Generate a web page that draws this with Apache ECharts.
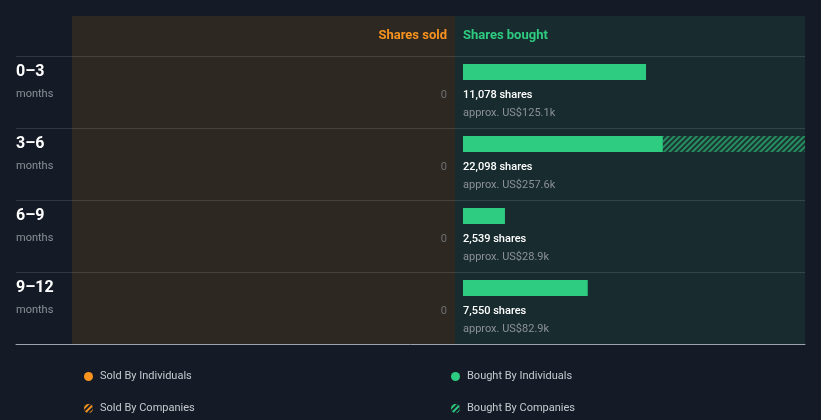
<!DOCTYPE html>
<html>
<head>
<meta charset="utf-8">
<script src="https://cdn.jsdelivr.net/npm/echarts@6/dist/echarts.min.js"></script>
<style>
html,body{margin:0;padding:0;background:#151b26;}
#c{width:821px;height:420px;}
</style>
</head>
<body>
<div id="c"></div>
<script>
const categories = ['0–3', '3–6', '6–9', '9–12'];
const rowUnit = 'months';
const soldIndividuals = [0, 0, 0, 0];
const soldCompanies = [0, 0, 0, 0];
const boughtIndividuals = [11078, 12100, 2539, 7550];
const boughtCompanies = [0, 9998, 0, 0];
const boughtTotalShares = [11078, 22098, 2539, 7550];
const boughtApproxValue = ['US$125.1k', 'US$257.6k', 'US$28.9k', 'US$82.9k'];
const axisMaxShares = 20700;

const ORANGE = '#f7931e';
const GREEN = '#2ecc80';
const FONT = 'Roboto';

const chart = echarts.init(document.getElementById('c'), null, {renderer: 'canvas'});

const hatchGreen = {
  color: 'rgba(46,204,128,0.6)',
  dashArrayX: [1, 0],
  dashArrayY: [1.2, 1.3],
  rotation: -Math.PI / 4
};
const hatchDark = {
  color: '#151b26',
  dashArrayX: [1, 0],
  dashArrayY: [1.2, 1.6],
  rotation: -Math.PI / 4
};

function fmt(n) { return n.toLocaleString('en-US'); }

const option = {
  backgroundColor: '#151b26',
  animation: false,
  textStyle: {fontFamily: FONT},
  graphic: [
    {type: 'rect', z: -10, shape: {x: 72, y: 16, width: 383, height: 328}, style: {fill: '#2d2822'}},
    {type: 'rect', z: -10, shape: {x: 455, y: 16, width: 350, height: 328}, style: {fill: '#182c2f'}}
  ],
  title: [
    {text: 'Shares sold', right: 374, top: 29, padding: 0,
     textStyle: {color: ORANGE, fontSize: 13, fontWeight: 'bold', fontFamily: FONT}},
    {text: 'Shares bought', left: 463, top: 29, padding: 0,
     textStyle: {color: GREEN, fontSize: 13, fontWeight: 'bold', fontFamily: FONT}}
  ],
  legend: [
    {left: 84, top: 371, orient: 'vertical', padding: 0, itemGap: 21, itemWidth: 9, itemHeight: 9,
     icon: 'circle', textStyle: {color: '#c5c9cf', fontSize: 11, fontFamily: FONT, padding: [0, 0, 0, 2]},
     data: [
       {name: 'Sold By Individuals', itemStyle: {color: ORANGE}},
       {name: 'Sold By Companies', itemStyle: {color: ORANGE, decal: hatchDark}}
     ]},
    {left: 451, top: 371, orient: 'vertical', padding: 0, itemGap: 21, itemWidth: 9, itemHeight: 9,
     icon: 'circle', textStyle: {color: '#c5c9cf', fontSize: 11, fontFamily: FONT, padding: [0, 0, 0, 2]},
     data: [
       {name: 'Bought By Individuals', itemStyle: {color: GREEN}},
       {name: 'Bought By Companies', itemStyle: {color: GREEN, decal: hatchDark}}
     ]}
  ],
  grid: [
    {left: 16, right: 16, top: 56, bottom: 76},
    {left: 72, right: 366, top: 56, bottom: 76},
    {left: 463, right: 16, top: 56, bottom: 76}
  ],
  xAxis: [
    {gridIndex: 0, type: 'value', min: 0, max: 1, axisLabel: {show: false}, splitLine: {show: false},
     axisTick: {show: false}, axisLine: {show: true, lineStyle: {color: '#9ba3ab', width: 1}}},
    {gridIndex: 1, type: 'value', min: 0, max: axisMaxShares, inverse: true, show: false},
    {gridIndex: 2, type: 'value', min: 0, max: axisMaxShares, show: false}
  ],
  yAxis: [
    {gridIndex: 0, type: 'category', data: categories, inverse: true,
     axisLine: {show: false}, axisTick: {show: false},
     splitLine: {show: true, lineStyle: {color: 'rgba(255,255,255,0.12)', width: 1}},
     axisLabel: {
       margin: 0, align: 'left', padding: [0, 0, 18, 0],
       formatter: v => `{a|${v}}\n{b|${rowUnit}}`,
       rich: {
         a: {fontSize: 16, fontWeight: 'bold', color: '#ffffff', lineHeight: 22, fontFamily: FONT},
         b: {fontSize: 11, color: '#8b9097', lineHeight: 22, fontFamily: FONT}
       }
     }},
    {gridIndex: 1, type: 'category', data: categories, inverse: true, show: false},
    {gridIndex: 2, type: 'category', data: categories, inverse: true, show: false}
  ],
  series: [
    {name: 'Sold By Individuals', type: 'bar', xAxisIndex: 1, yAxisIndex: 1, stack: 'sold',
     data: soldIndividuals, barWidth: 16, barGap: '150%', itemStyle: {color: ORANGE},
     label: {show: true, position: [-8, 22], align: 'right', verticalAlign: 'top',
       formatter: p => `{z|${fmt(soldIndividuals[p.dataIndex] + soldCompanies[p.dataIndex])}}`,
       rich: {z: {fontSize: 11, color: '#6e7072', lineHeight: 18, fontFamily: FONT}}}},
    {name: 'Sold By Companies', type: 'bar', xAxisIndex: 1, yAxisIndex: 1, stack: 'sold',
     data: soldCompanies, barWidth: 16, barGap: '150%', itemStyle: {color: ORANGE, decal: hatchDark}},
    {name: 'spacer-sold', type: 'bar', xAxisIndex: 1, yAxisIndex: 1, silent: true,
     data: ['-', '-', '-', '-'], barWidth: 16, barGap: '150%'},
    {name: 'Bought By Individuals', type: 'bar', xAxisIndex: 2, yAxisIndex: 2, stack: 'bought',
     data: boughtIndividuals, barWidth: 16, barGap: '150%', itemStyle: {color: GREEN},
     label: {show: true, position: [0, 22], align: 'left', verticalAlign: 'top',
       formatter: p => `{s|${fmt(boughtTotalShares[p.dataIndex])} shares}\n{v|approx. ${boughtApproxValue[p.dataIndex]}}`,
       rich: {
         s: {fontSize: 11, fontWeight: 500, color: '#ffffff', lineHeight: 18, fontFamily: FONT},
         v: {fontSize: 11, color: '#8b9097', lineHeight: 18, fontFamily: FONT}
       }}},
    {name: 'Bought By Companies', type: 'bar', xAxisIndex: 2, yAxisIndex: 2, stack: 'bought',
     data: boughtCompanies, barWidth: 16, barGap: '150%', itemStyle: {color: '#1a3431', decal: hatchGreen}},
    {name: 'spacer-bought', type: 'bar', xAxisIndex: 2, yAxisIndex: 2, silent: true,
     data: ['-', '-', '-', '-'], barWidth: 16, barGap: '150%'}
  ]
};
chart.setOption(option);
</script>
</body>
</html>
